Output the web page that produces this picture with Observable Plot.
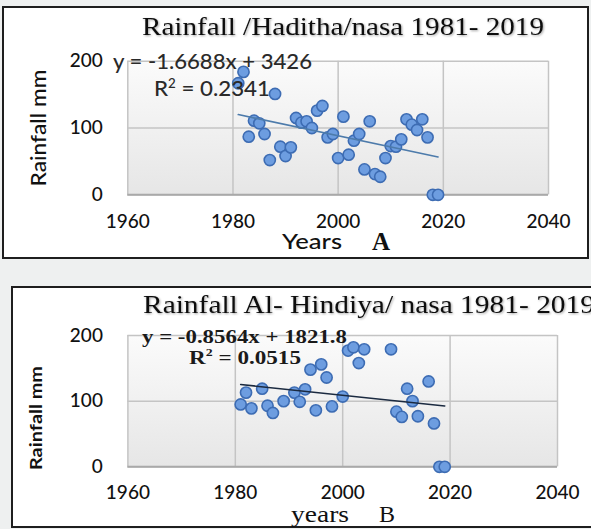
<!DOCTYPE html>
<html>
<head>
<meta charset="utf-8">
<script src="https://cdn.jsdelivr.net/npm/d3@7"></script>
<script src="https://cdn.jsdelivr.net/npm/@observablehq/plot@0.6"></script>
<style>
  body { margin: 0; width: 591px; height: 529px; background: #eef0f0; position: relative; overflow: hidden; }
  .panel { position: absolute; background: #fff; border: 2px solid #1e1e1e; box-sizing: border-box; }
  #frameA { left: 2px; top: 6px; width: 587px; height: 253px; }
  #frameB { left: 11px; top: 286px; width: 600px; height: 242px; }
  .chart { position: absolute; left: 0; }
  #chartA { top: 0; }
  #chartB { top: 270px; }
</style>
</head>
<body>
<div class="panel" id="frameA"></div>
<div class="panel" id="frameB"></div>
<div class="chart" id="chartA"></div>
<div class="chart" id="chartB"></div>
<script>
// Annual rainfall (mm), NASA data
const yearsHaditha = [1981, 1982, 1983, 1984, 1985, 1986, 1987, 1988, 1989, 1990,
  1991, 1992, 1993, 1994, 1995, 1996, 1997, 1998, 1999, 2000,
  2001, 2002, 2003, 2004, 2005, 2006, 2007, 2008, 2009, 2010,
  2011, 2012, 2013, 2014, 2015, 2016, 2017, 2018, 2019];
const rainHaditha = [167, 184, 87, 111, 107, 91, 52, 151, 72, 58,
  71, 115, 108, 110, 100, 126, 133, 86, 91, 55,
  117, 60, 81, 91, 38, 110, 31, 27, 55, 73,
  72, 83, 113, 105, 97, 113, 86, 0, 0];

const yearsHindiya = [1981, 1982, 1983, 1985, 1986, 1987, 1989, 1991, 1992, 1993,
  1994, 1995, 1996, 1997, 1998, 2000, 2001, 2002, 2003, 2004,
  2009, 2010, 2011, 2012, 2013, 2014, 2016, 2017, 2018, 2019];
const rainHindiya = [95, 113, 89, 119, 93, 82, 100, 113, 99, 118,
  148, 86, 156, 136, 92, 107, 177, 182, 158, 179,
  179, 84, 76, 119, 100, 77, 130, 66, 0, 0];

// Linear trend lines as published on each chart
const slopeHaditha = -1.6688, interceptHaditha = 3426, r2Haditha = "0.2341";
const slopeHindiya = -0.8564, interceptHindiya = 1821.8, r2Hindiya = "0.0515";

// Axis ticks
const xTicks = [1960, 1980, 2000, 2020, 2040];
const yTicks = [0, 100, 200];

function addText(svg, txt, opts) {
  const t = d3.select(svg).append("text")
    .attr("x", opts.x).attr("y", opts.y)
    .attr("font-family", opts.family)
    .attr("font-size", opts.size)
    .attr("font-weight", opts.weight || "normal")
    .attr("fill", opts.fill || "#111")
    .attr("text-anchor", opts.anchor || "start");
  if (opts.length) t.attr("textLength", opts.length).attr("lengthAdjust", "spacingAndGlyphs");
  if (opts.rotate) t.attr("transform", `rotate(-90 ${opts.x} ${opts.y})`);
  if (opts.shadow) t.attr("filter", `url(#${opts.shadow})`);
  if (opts.sup) {
    t.append("tspan").text(opts.sup[0]);
    t.append("tspan").attr("font-size", opts.size * 0.6).attr("dy", -opts.size * 0.4).text("2");
    t.append("tspan").attr("dy", opts.size * 0.4).text(opts.sup[1]);
  } else {
    t.text(txt);
  }
  return t;
}

function scatterPanel(cfg) {
  const pts = cfg.years.map((yr, i) => ({year: yr, rain: cfg.rain[i]}));
  const ends = d3.extent(cfg.years);
  const trend = ends.map(yr => ({year: yr, rain: cfg.slope * yr + cfg.intercept}));
  const svg = Plot.plot({
    width: 591,
    height: cfg.height,
    marginLeft: cfg.ml, marginRight: cfg.mr, marginTop: cfg.mt, marginBottom: cfg.mb,
    style: {background: "transparent", color: "#111", overflow: "visible"},
    x: {domain: [1960, 2040]},
    y: {domain: [0, 200]},
    marks: [
      Plot.frame({fill: `url(#${cfg.id}-bg)`, stroke: null}),
      Plot.gridX(xTicks, {stroke: "#c4c4c4", strokeOpacity: 1, strokeWidth: 1.5}),
      Plot.gridY(yTicks, {stroke: "#c4c4c4", strokeOpacity: 1, strokeWidth: 1.5}),
      Plot.ruleY([0], {stroke: "#a9a9a9", strokeWidth: 2}),
      Plot.axisX(xTicks, {tickSize: 0, tickPadding: cfg.xPad, tickFormat: d => String(d),
        fontSize: 19, fontWeight: 500, fontFamily: "Lato, sans-serif", label: null}),
      Plot.axisY(yTicks, {tickSize: 0, tickPadding: 25, fontSize: 19, fontWeight: 500,
        fontFamily: "Lato, sans-serif", label: null}),
      Plot.dot(pts, {x: "year", y: "rain", r: 5.6, fill: "#6d9de0", stroke: "#3d6cb3", strokeWidth: 1.6}),
      Plot.line(trend, {x: "year", y: "rain", stroke: cfg.lineColor, strokeWidth: 1.6})
    ]
  });
  const defs = d3.select(svg).insert("defs", ":first-child");
  const g = defs.append("linearGradient").attr("id", `${cfg.id}-bg`)
    .attr("x1", 0).attr("y1", 0).attr("x2", 0).attr("y2", 1);
  g.append("stop").attr("offset", "0%").attr("stop-color", "#fbfbfb");
  g.append("stop").attr("offset", "100%").attr("stop-color", "#e6e6e6");
  // soft grey halo behind the titles
  defs.append("filter").attr("id", `${cfg.id}-shadow`)
    .attr("x", "-5%").attr("y", "-30%").attr("width", "110%").attr("height", "160%")
    .append("feDropShadow").attr("dx", 1).attr("dy", 1).attr("stdDeviation", 1)
    .attr("flood-color", "#000").attr("flood-opacity", 0.35);
  return svg;
}

// Panel A: Haditha
const svgA = scatterPanel({
  id: "haditha", years: yearsHaditha, rain: rainHaditha,
  slope: slopeHaditha, intercept: interceptHaditha,
  height: 260, ml: 127.3, mr: 43, mt: 60.7, mb: 65.7, xPad: 20,
  lineColor: "#4d7bab"
});
addText(svgA, "Rainfall /Haditha/nasa 1981- 2019",
  {x: 142, y: 35, family: "Liberation Serif, serif", size: 25, length: 402, shadow: "haditha-shadow"});
addText(svgA, `y = ${slopeHaditha}x + ${interceptHaditha}`,
  {x: 113, y: 69, family: "Lato, sans-serif", size: 21, weight: 500, fill: "#2a2a2a", length: 199});
addText(svgA, null,
  {x: 154, y: 96, family: "Lato, sans-serif", size: 21, weight: 500, fill: "#2a2a2a", length: 116, sup: ["R", ` = ${r2Haditha}`]});
addText(svgA, "Rainfall mm",
  {x: 46, y: 128, family: "Lato, sans-serif", size: 21, weight: 500, anchor: "middle", rotate: true, length: 117});
addText(svgA, "Years",
  {x: 312, y: 249, family: "Lato, sans-serif", size: 21, weight: 500, anchor: "middle", length: 60});
addText(svgA, "A",
  {x: 381, y: 250, family: "Liberation Serif, serif", size: 25, weight: "bold", anchor: "middle"});
document.getElementById("chartA").append(svgA);

// Panel B: Al-Hindiya
const svgB = scatterPanel({
  id: "hindiya", years: yearsHindiya, rain: rainHindiya,
  slope: slopeHindiya, intercept: interceptHindiya,
  height: 259, ml: 127.4, mr: 34, mt: 65, mb: 62.7, xPad: 19,
  lineColor: "#1b2a40"
});
addText(svgB, "Rainfall Al- Hindiya/ nasa 1981- 2019",
  {x: 143, y: 43, family: "Liberation Serif, serif", size: 25, length: 452, shadow: "hindiya-shadow"});
addText(svgB, `y = ${slopeHindiya}x + ${interceptHindiya}`,
  {x: 142, y: 73, family: "Liberation Serif, serif", size: 19, weight: "bold", fill: "#1a1a1a", length: 205});
addText(svgB, null,
  {x: 189, y: 94, family: "Liberation Serif, serif", size: 19, weight: "bold", fill: "#1a1a1a", length: 112, sup: ["R", ` = ${r2Hindiya}`]});
addText(svgB, "Rainfall mm",
  {x: 42, y: 148, family: "Lato, sans-serif", size: 17, weight: "bold", anchor: "middle", rotate: true, length: 104});
addText(svgB, "years",
  {x: 320, y: 251.5, family: "Liberation Serif, serif", size: 23, anchor: "middle", length: 58});
addText(svgB, "B",
  {x: 387, y: 251.5, family: "Liberation Serif, serif", size: 24, anchor: "middle"});
document.getElementById("chartB").append(svgB);
</script>
</body>
</html>
